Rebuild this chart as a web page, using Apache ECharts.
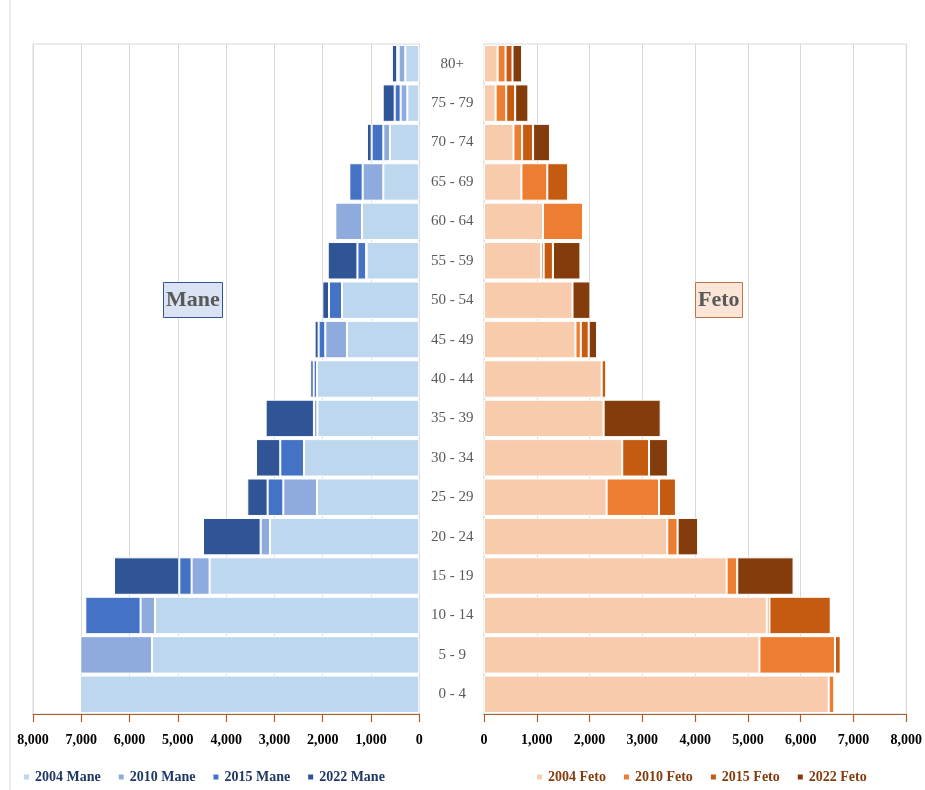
<!DOCTYPE html>
<html><head><meta charset="utf-8">
<script src="https://cdn.jsdelivr.net/npm/echarts@6/dist/echarts.min.js"></script>
<style>html,body{margin:0;padding:0;background:#fff}#c{width:925px;height:790px}</style>
</head><body><div id="c"></div>
<script>
const categories = ['0 - 4','5 - 9','10 - 14','15 - 19','20 - 24','25 - 29','30 - 34','35 - 39','40 - 44','45 - 49','50 - 54','55 - 59','60 - 64','65 - 69','70 - 74','75 - 79','80+'];
const xTicks = [0,1000,2000,3000,4000,5000,6000,7000,8000];

const m2004 = [7027, 5536, 5474, 4342, 3092, 2119, 2388, 2110, 2119, 1498, 1601, 1091, 1187, 745, 607, 248, 290];
const m2010 = [0, 1485, 298, 373, 194, 697, 0, 72, 0, 449, 0, 10, 552, 428, 138, 138, 137];
const m2015 = [0, 0, 1145, 255, 0, 325, 491, 0, 69, 138, 269, 180, 0, 276, 242, 124, 30];
const m2022 = [0, 0, 0, 1353, 1194, 421, 503, 1000, 69, 83, 138, 615, 0, 0, 97, 248, 110];

const f2004 = [6531, 5218, 5358, 4597, 3472, 2323, 2619, 2266, 2229, 1733, 1677, 1080, 1118, 709, 559, 220, 258];
const f2010 = [107, 1432, 50, 201, 196, 993, 0, 0, 0, 101, 0, 50, 759, 490, 163, 201, 150];
const f2015 = [0, 107, 1161, 0, 0, 320, 508, 0, 88, 150, 0, 176, 0, 396, 208, 169, 132];
const f2022 = [0, 0, 0, 1067, 388, 0, 358, 1081, 0, 157, 339, 521, 0, 0, 320, 251, 182];

const maleNames = ['2004 Mane','2010 Mane','2015 Mane','2022 Mane'];
const femaleNames = ['2004 Feto','2010 Feto','2015 Feto','2022 Feto'];
const maleColors = ['#BDD7EE','#8FAADC','#4472C4','#2F5597'];
const femaleColors = ['#F8CBAD','#ED7D31','#C55A11','#843C0C'];

const serif = 'Liberation Serif, Times New Roman, serif';
const brown = '#A65F2E';
const gridGray = '#D9D9D9';

function fmt(v){ return Number(v).toLocaleString('en-US'); }

function valueAxis(idx, inverse){
  return {
    type:'value', gridIndex: idx, min: xTicks[0], max: xTicks[xTicks.length-1], interval: xTicks[1]-xTicks[0],
    inverse: inverse,
    axisLine:{show:true, lineStyle:{color:brown, width:1.2}},
    axisTick:{show:true, length:8, lineStyle:{color:brown, width:1.2}},
    axisLabel:{margin:19, color:'#000', fontFamily:serif, fontWeight:'bold', fontSize:14, formatter: fmt},
    splitLine:{show:true, lineStyle:{color:gridGray, width:1}}
  };
}

const maleData = [m2004, m2010, m2015, m2022];
const femaleData = [f2004, f2010, f2015, f2022];
const series = [];
maleNames.forEach((n,i)=>series.push({
  name:n, type:'bar', stack:'m', xAxisIndex:0, yAxisIndex:0, data: maleData[i],
  barCategoryGap:'5%', itemStyle:{color:maleColors[i], borderColor:'#fff', borderWidth:1}
}));
femaleNames.forEach((n,i)=>series.push({
  name:n, type:'bar', stack:'f', xAxisIndex:1, yAxisIndex:1, data: femaleData[i],
  barCategoryGap:'5%', itemStyle:{color:femaleColors[i], borderColor:'#fff', borderWidth:1}
}));

const chart = echarts.init(document.getElementById('c'));
chart.setOption({
  animation:false,
  backgroundColor:'#fff',
  title:[
    {text:'Mane', left:163, top:282, backgroundColor:'#DAE3F3', borderColor:'#2F5597', borderWidth:1,
     padding:[7,3,7,3], textStyle:{fontFamily:serif, fontWeight:'bold', fontSize:22, color:'#595959'}},
    {text:'Feto', left:695, top:282, backgroundColor:'#FBE5D6', borderColor:'#B9774A', borderWidth:1,
     padding:[7,3,7,3], textStyle:{fontFamily:serif, fontWeight:'bold', fontSize:22, color:'#595959'}}
  ],
  legend:[
    {data:maleNames, left:22, top:770, padding:0, icon:'rect', itemWidth:7, itemHeight:7, itemGap:16,
     textStyle:{fontFamily:serif, fontWeight:'bold', fontSize:14, color:'#1F3864'}},
    {data:femaleNames, left:535, top:770, padding:0, icon:'rect', itemWidth:7, itemHeight:7, itemGap:16,
     textStyle:{fontFamily:serif, fontWeight:'bold', fontSize:14, color:'#843C0C'}}
  ],
  grid:[
    {left:33, right:505.7, top:44, bottom:76, show:true, borderColor:gridGray, borderWidth:1},
    {left:484, right:16.3, top:44, bottom:76, show:true, borderColor:gridGray, borderWidth:1}
  ],
  xAxis:[ valueAxis(0, true), valueAxis(1, false) ],
  yAxis:[
    {type:'category', gridIndex:0, data:categories, position:'right',
     axisLine:{show:true, lineStyle:{color:gridGray}}, axisTick:{show:false},
     axisLabel:{align:'center', margin:33, color:'#595959', fontFamily:serif, fontSize:15}},
    {type:'category', gridIndex:1, data:categories, position:'left',
     axisLine:{show:true, lineStyle:{color:gridGray}}, axisTick:{show:false}, axisLabel:{show:false}}
  ],
  graphic:[
    {type:'line', shape:{x1:10, y1:0, x2:10, y2:790}, style:{stroke:gridGray, lineWidth:1}, silent:true}
  ],
  series: series
});
</script>
</body></html>
